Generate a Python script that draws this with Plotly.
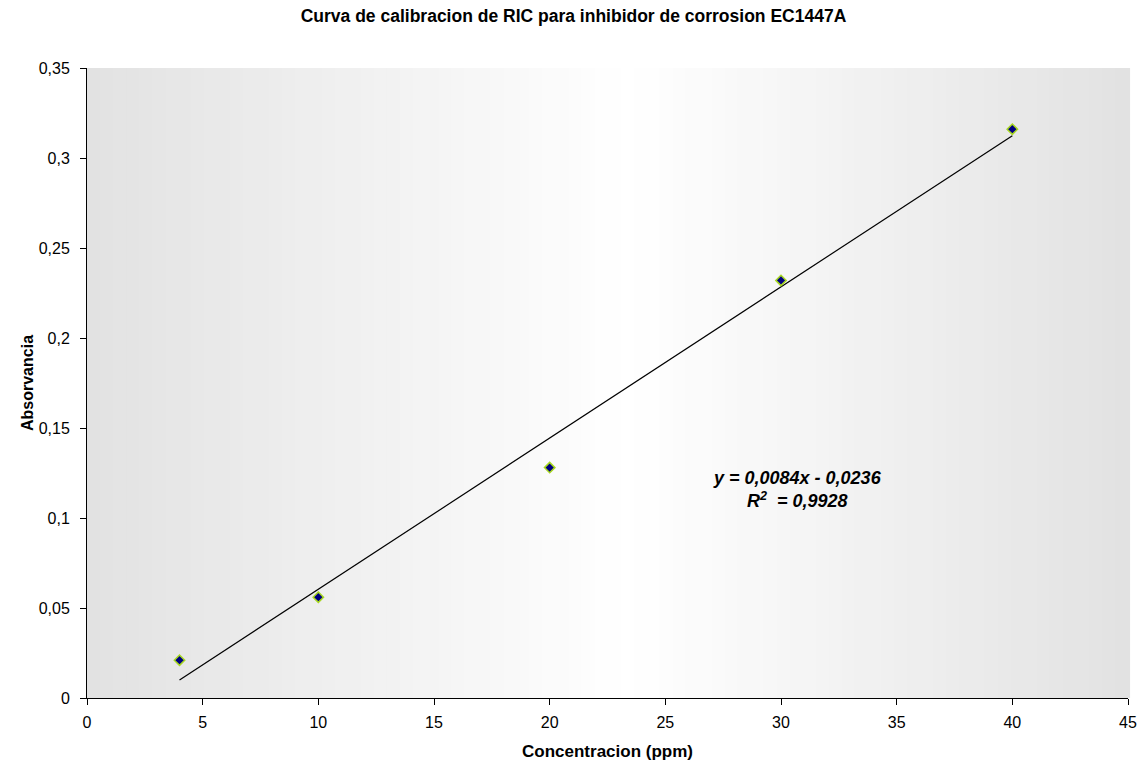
import plotly.graph_objects as go

# Data
conc_ppm = [4, 10, 20, 30, 40]
absorbance = [0.021, 0.056, 0.128, 0.232, 0.316]
trend_x = [4, 40]
trend_y = [0.0100, 0.3124]
x_ticks = [0, 5, 10, 15, 20, 25, 30, 35, 40, 45]
y_ticks = [0, 0.05, 0.1, 0.15, 0.2, 0.25, 0.3, 0.35]
y_tick_text = ["0", "0,05", "0,1", "0,15", "0,2", "0,25", "0,3", "0,35"]

fig = go.Figure()

fig.add_trace(go.Scatter(
    x=trend_x, y=trend_y, mode="lines",
    line=dict(color="black", width=1.2), showlegend=False, hoverinfo="skip"))

fig.add_trace(go.Scatter(
    x=conc_ppm, y=absorbance, mode="markers",
    marker=dict(symbol="diamond", size=8, color="#000080",
                line=dict(color="#a8d820", width=1.5)),
    showlegend=False))

# horizontal gradient background: gray at edges, white near middle
n = 80
peak = 0.52
shapes = []
for i in range(n):
    f0 = i / n
    f1 = (i + 1) / n
    fm = (f0 + f1) / 2
    t = fm / peak if fm <= peak else (1 - fm) / (1 - peak)
    g = int(round(226 + (255 - 226) * t))
    shapes.append(dict(type="rect", xref="x domain", yref="y domain",
                       x0=f0, x1=f1 + 0.002, y0=0, y1=1, layer="below",
                       line=dict(width=0), fillcolor=f"rgb({g},{g},{g})"))

fig.update_layout(
    width=1147, height=767,
    paper_bgcolor="white", plot_bgcolor="white",
    margin=dict(l=87, r=19, t=68, b=69),
    font=dict(family="Liberation Sans, Arial", size=16, color="black"),
    title=dict(text="<b>Curva de calibracion de RIC para inhibidor de corrosion EC1447A</b>",
               x=0.5, xanchor="center", y=0.979, yanchor="middle",
               font=dict(size=17.5)),
    shapes=shapes,
    xaxis=dict(range=[0, 45], tickvals=x_ticks, ticks="outside", ticklen=6,
               tickcolor="black", showgrid=False, zeroline=False,
               showline=True, linecolor="black", linewidth=1,
               ticklabelstandoff=4, automargin=False,
               title=dict(text="<b>Concentracion (ppm)</b>", font=dict(size=17), standoff=14),
               tickfont=dict(size=16)),
    yaxis=dict(range=[0, 0.35], tickvals=y_ticks, ticktext=y_tick_text,
               ticks="outside", ticklen=6, tickcolor="black",
               showgrid=False, zeroline=False, showline=True,
               linecolor="black", linewidth=1, ticklabelstandoff=7,
               automargin=False,
               title=dict(text="<b>Absorvancia</b>", font=dict(size=16), standoff=1),
               tickfont=dict(size=16)),
    annotations=[
        dict(x=30.7, y=0.1156, xref="x", yref="y",
             text="<b><i>y = 0,0084x - 0,0236</i></b><br><b><i>R<sup>2</sup>  = 0,9928</i></b>",
             showarrow=False, font=dict(size=18, color="black"), align="center")
    ],
)

fig.write_html("out.html", config={"displayModeBar": False},
               post_script="document.body.style.margin='0';")
